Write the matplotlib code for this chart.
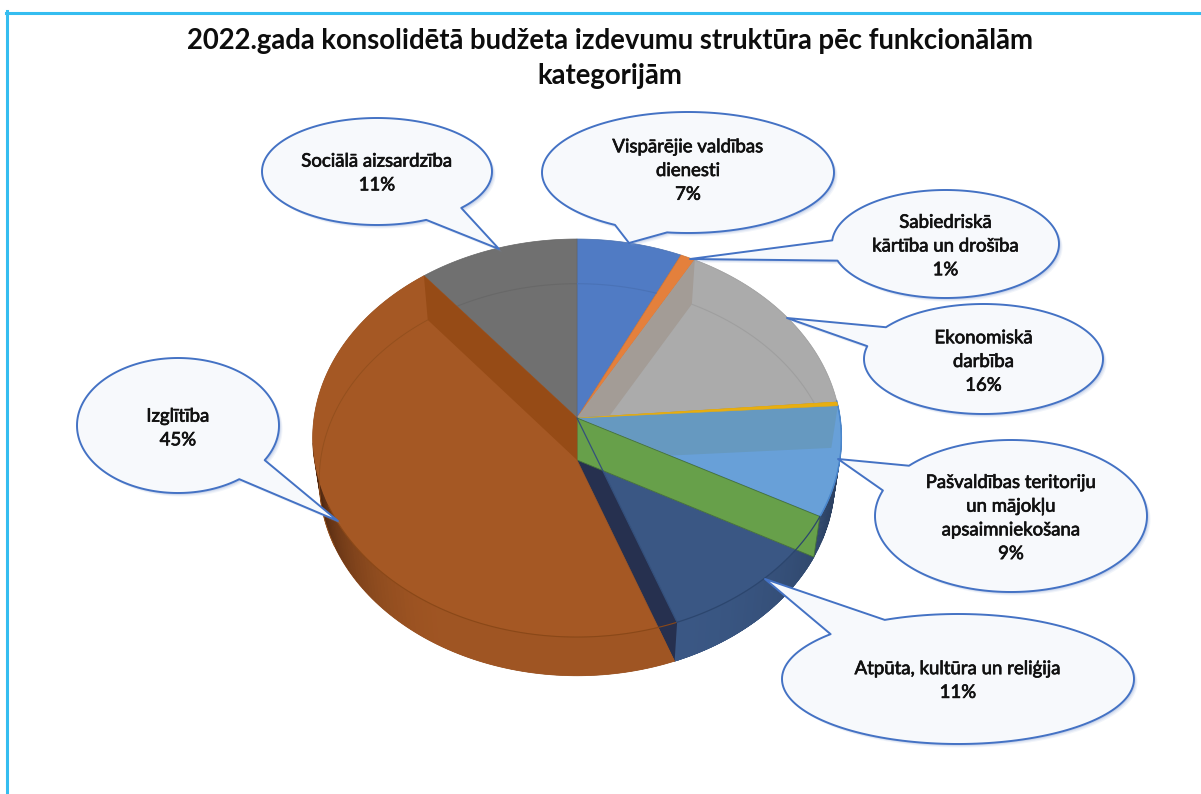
import numpy as np
import matplotlib
matplotlib.use('Agg')
import matplotlib.pyplot as plt
import matplotlib.patheffects as pe
from matplotlib.patches import Polygon

plt.rcParams['font.family'] = ['Lato', 'DejaVu Sans']

title = '2022.gada konsolidētā budžeta izdevumu struktūra pēc funkcionālām\nkategorijām'

names = ['Vispārējie valdības\ndienesti', 'Sabiedriskā\nkārtība un drošība', 'Ekonomiskā\ndarbība', '',
         'Pašvaldības teritoriju\nun mājokļu\napsaimniekošana', '', 'Atpūta, kultūra un reliģija',
         'Izglītība', 'Sociālā aizsardzība']
shares = [7.1, 1.0, 15.6, 0.3, 8.9, 0.4, 11.1, 44.8, 10.8]
colors = ['#507bc4', '#e4803c', '#ababab', '#e8ae10', '#68a0d8', '#67a04a', '#3a5784', '#a55824', '#707070']

# callout box: centre x, centre y, rx, ry, tail tip x, tail tip y, text shift
callouts = {
    'Vispārējie valdības\ndienesti': (688, 172.5, 146, 60.5, 629, 243, -2),
    'Sabiedriskā\nkārtība un drošība': (945.5, 244, 113.5, 54, 690, 259, 2),
    'Ekonomiskā\ndarbība': (983.5, 359, 119.5, 55, 787, 318, 2.5),
    'Pašvaldības teritoriju\nun mājokļu\napsaimniekošana': (1011, 516, 136, 76, 838, 459, 2),
    'Atpūta, kultūra un reliģija': (958, 679, 176, 65, 765, 579, 1.5),
    'Izglītība': (178, 425.5, 101, 67.5, 338, 521, 2.5),
    'Sociālā aizsardzība': (377, 171.5, 115, 53.5, 499, 249, 1.5),
}

# perspective pie, in picture pixels
cx, cy = 577, 418
rx, ry, k = 263, 197, 0.1007
depth = 42
shrink_x, shrink_y = 0.975, 0.985


def top_pt(pct):
    t = np.asarray(pct) * 2 * np.pi / 100
    u, v = np.sin(t), np.cos(t)
    return np.column_stack([cx + rx * u / (1 + k * v), cy - ry * v / (1 + k * v)])


def bot_pt(pct):
    p = top_pt(pct)
    return np.column_stack([cx + (p[:, 0] - cx) * shrink_x, cy + depth + (p[:, 1] - cy) * shrink_y])


def arc(start, end, n=80):
    return np.linspace(start, end, n)


def mix(c, other, a):
    c = np.array(matplotlib.colors.to_rgb(c))
    other = np.array(matplotlib.colors.to_rgb(other))
    return tuple(c * (1 - a) + other * a)


fig = plt.figure(figsize=(12.01, 7.94), dpi=100)
ax = fig.add_axes([0, 0, 1, 1])
ax.set_xlim(0, 1201)
ax.set_ylim(794, 0)
ax.axis('off')

# frame runs off the right and bottom of the picture
ax.plot([7, 7], [11, 794], color='#35bdf0', lw=2.2, zorder=1, clip_on=False)
ax.plot([6, 1200], [12.5, 12.5], color='#35bdf0', lw=2.2, zorder=1, clip_on=False)
ax.text(610, 58.5, title, ha='center', va='center', fontsize=19.8, fontweight='bold', color='#0d0d0d',
        linespacing=1.44)

edges = np.concatenate([[0], np.cumsum(shares)])
apex_top = np.array([[cx, cy]])
apex_bot = np.array([[cx, cy + depth]])


def poly(pts, fc, z, ec='none', lw=0, alpha=None):
    p = Polygon(pts, closed=True, fc=fc, ec=ec, lw=lw, alpha=alpha, zorder=z, joinstyle='round')
    ax.add_patch(p)
    return p


def side(pct):
    # inner wall of a slice, from the apex out to the rim
    return np.vstack([apex_top, top_pt([pct]), bot_pt([pct]), apex_bot])


def wall_strip(a, b, c, z):
    return poly(np.vstack([top_pt([a]), top_pt([b]), bot_pt([b]), bot_pt([a])]), c, z, ec=c, lw=0.5)


# top faces of the back slices, each with the wall behind it showing through
faces = {}
for i, (s, e) in enumerate(zip(edges[:-1], edges[1:])):
    if i in (5, 6, 7):
        continue
    pts = np.vstack([apex_top, top_pt(arc(s, e))])
    faces[i] = poly(pts, colors[i], 2, ec=mix(colors[i], 'black', 0.1), lw=0.5)

# outer wall on the right, shading to dark at the far end
ts = arc(24.0, edges[7], 90)
for a, b in zip(ts[:-1], ts[1:]):
    m = (a + b) / 2
    c = mix('#3a5784', '#1d2b40', np.clip((44 - m) / 14, 0, 1) ** 1.5 * 0.5)
    wall_strip(a, b, c, 3)

# navy slice, seen down to the floor of the pie
poly(np.vstack([apex_bot, bot_pt(arc(edges[5], edges[7]))]), colors[6], 3.5, ec=colors[6], lw=0.5)
ts = arc(edges[5], edges[7], 50)
for a, b in zip(ts[:-1], ts[1:]):
    m = (a + b) / 2
    c = mix('#3a5784', '#1d2b40', np.clip((44 - m) / 14, 0, 1) ** 1.5 * 0.5)
    wall_strip(a, b, c, 3.6)

# light blue face above its wall, plus the wall seen through it
blue = poly(np.vstack([apex_top, top_pt(arc(edges[4], edges[5]))]), colors[4], 4.5, ec='#4f8ed0', lw=0.8)
poly(side(edges[4]), '#6699c0', 4.6).set_clip_path(blue)
ax.plot(*top_pt(arc(edges[3] - 0.1, edges[5])).T, color='#4a86cc', lw=1.0, zorder=4.7)
yellow = np.vstack([apex_top, top_pt(arc(edges[3], edges[4], 4))])
poly(yellow, colors[3], 4.8, ec=colors[3], lw=0.4)

# dark navy wall, then the green slice, which is only its wall
poly(side(edges[7]), '#26304f', 4.9)
poly(side(edges[5]), colors[5], 5, ec='#46713a', lw=0.6)

# brown slice over the dark wall
brown = np.vstack([apex_top, apex_bot, bot_pt(arc(edges[7], 72, 120)), top_pt(arc(72, edges[8], 60))])
brown_patch = poly(brown, colors[7], 5.8, ec=mix(colors[7], 'black', 0.1), lw=0.5)
ts = arc(edges[7], 73, 90)
for a, b in zip(ts[:-1], ts[1:]):
    m = (a + b) / 2
    c = mix(colors[7], '#2b1408', 0.05 + np.clip((m - 58) / 13, 0, 1) ** 1.6 * 0.7)
    wall_strip(a, b, c, 6.0).set_clip_path(brown_patch)
poly(np.vstack([apex_top, top_pt(arc(60, edges[8], 60))]), colors[7], 6.2)
poly(side(edges[8]), '#964b16', 6.5)
ax.plot(*top_pt(arc(edges[7], 68)).T, color='#8a4818', lw=0.8, zorder=6.6)
ax.plot(*bot_pt(arc(68, edges[8])).T, color='#94501e', lw=0.7, zorder=6.6)
ax.plot(*np.vstack([apex_top, top_pt([edges[7]])]).T, color='#34507c', lw=0.9, zorder=6.7)
ax.plot(*top_pt(arc(edges[5], edges[7])).T, color='#2c466e', lw=0.9, zorder=6.7)

# walls and floor edge visible through the back slices
poly(side(edges[2]), '#a39c96', 2.5).set_clip_path(faces[2])
for i in (0, 2, 8):
    line, = ax.plot(*bot_pt(arc(edges[i], edges[i + 1])).T, color=mix(colors[i], 'black', 0.07), lw=0.8, zorder=2.6)
    line.set_clip_path(faces[i])

# callouts
for name, share in zip(names, shares):
    if not name:
        continue
    x, y, a, b, tx, ty, dy = callouts[name]
    aim = np.arctan2((ty - y) / b, (tx - x) / a)
    th = np.linspace(aim + 0.19, aim + 2 * np.pi - 0.19, 180)
    pts = np.column_stack([x + a * np.cos(th), y + b * np.sin(th)])
    pts = np.vstack([pts, [[tx, ty]]])
    for off, al in ((3.5, 0.10), (2.5, 0.15), (1.5, 0.25)):
        poly(pts + [off, off], '#7f9bd0', 8, alpha=al)
    poly(pts, '#f7f9fc', 9, ec='#4472c4', lw=1.4)
    txt = ax.text(x, y + dy, f'{name}\n{round(share)}%', ha='center', va='center', fontsize=13.4, color='#111111',
                  linespacing=1.48, zorder=10)
    txt.set_path_effects([pe.withStroke(linewidth=0.5, foreground='#111111')])

fig.savefig('out.png', dpi=100)
